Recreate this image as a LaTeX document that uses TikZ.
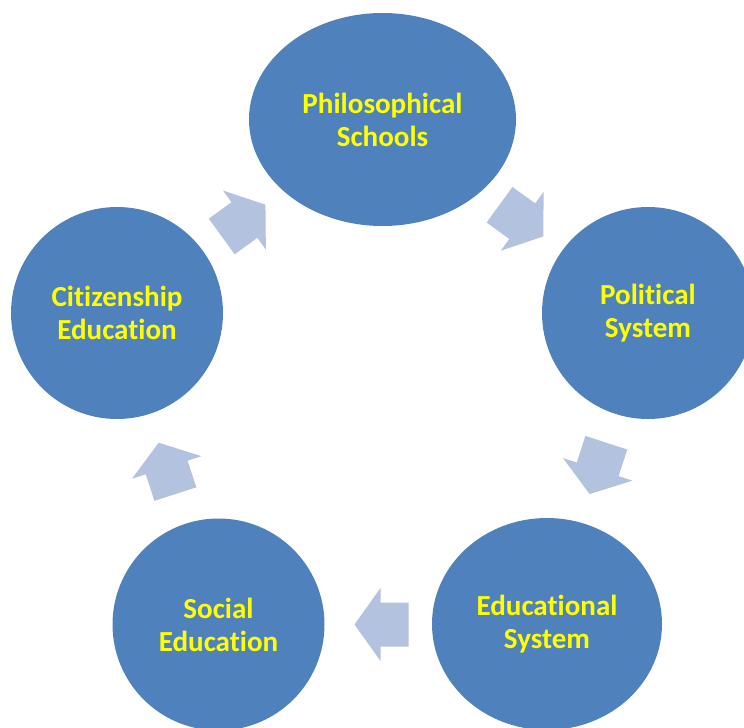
\documentclass[tikz,border=0pt]{standalone}
\usepackage{fontspec}
\setmainfont[RawFeature=-liga]{Carlito}
\usetikzlibrary{shapes.geometric}
\definecolor{circblue}{HTML}{4F81BD}
\definecolor{arrblue}{HTML}{B3C2DE}
\definecolor{txtyellow}{HTML}{FFFF00}
\begin{document}
\begin{tikzpicture}[x=0.75pt,y=-0.75pt,
  stage/.style={ellipse, fill=circblue, draw=none, inner sep=0pt,
    minimum width=159pt, minimum height=159pt, align=center,
    text=txtyellow, font=\bfseries\fontsize{21.8}{24.75}\selectfont},
  flowarrow/.style={fill=arrblue, draw=none}]
\useasboundingbox (0,0) rectangle (744,728);
\clip (0,0) rectangle (744,728);
\node[stage, minimum width=200.25pt, minimum height=159.75pt] (phil) at (382.5,119.5) {Philosophical\\Schools};
\node[stage] (pol) at (648,313) {Political\\System};
\node[stage, minimum width=172.5pt, minimum height=159pt] (edu) at (547,624) {Educational\\System};
\node[stage] (soc) at (218.5,624.5) {Social\\Education};
\node[stage] (cit) at (117,313) {Citizenship\\Education};
\foreach \px/\py/\r in {243.6/220.6/36, 521.4/220.6/-36, 598/468.4/-108, 381.5/624.5/180, 167/468.4/108}
  \fill[flowarrow, shift={(\px,\py)}, rotate=\r]
    (-27,-22) -- (1,-22) -- (1,-36.5) -- (27,0) -- (1,36.5) -- (1,22) -- (-27,22) -- cycle;
\end{tikzpicture}
\end{document}
